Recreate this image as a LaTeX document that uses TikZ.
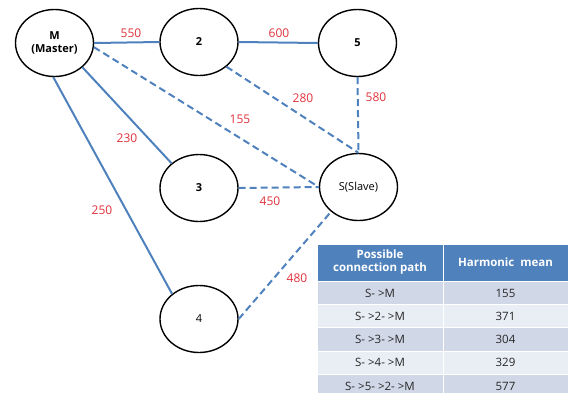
\documentclass[tikz,border=0pt]{standalone}
\usepackage{fontspec}
\setmainfont{Open Sans}
\usetikzlibrary{shapes.geometric}
\definecolor{edgeblue}{HTML}{4F81BD}
\definecolor{lblred}{HTML}{E0303A}
\definecolor{rowdark}{HTML}{D0D8E8}
\definecolor{rowlight}{HTML}{E9EDF4}
\definecolor{celltext}{HTML}{262626}
\newcommand{\arr}{-\hspace{3pt}>}
\tikzset{
  vert/.style={ellipse,draw=black,line width=1.4pt,minimum width=78pt,minimum height=67pt,inner sep=0pt,font=\fontsize{11}{13}\selectfont\bfseries,align=center},
  solidedge/.style={draw=edgeblue,line width=2pt},
  dashedge/.style={draw=edgeblue,line width=2pt,dash pattern=on 7pt off 4pt},
  wlabel/.style={text=lblred,font=\fontsize{12}{13}\selectfont,inner sep=0pt},
  headcell/.style={fill=edgeblue,draw=white,line width=0.8pt},
  darkcell/.style={fill=rowdark,draw=white,line width=0.8pt},
  lightcell/.style={fill=rowlight,draw=white,line width=0.8pt},
  headtext/.style={text=white,font=\fontsize{11.5}{13}\selectfont\bfseries,align=center,inner sep=0pt},
  celltxt/.style={text=celltext,font=\fontsize{11.5}{13}\selectfont,inner sep=0pt}
}
\begin{document}
\begin{tikzpicture}[x=1pt,y=-1pt]
\useasboundingbox (0,0) rectangle (568,392);
% vertices
\node[vert] (M) at (54.5,43) {M\\(Master)};
\node[vert] (n2) at (199,42) {2};
\node[vert] (n5) at (357.5,43) {5};
\node[vert] (S) at (358.5,187) {\mdseries S(Slave)};
\node[vert] (n3) at (199,188) {3};
\node[vert] (n4) at (199,319) {\mdseries 4};
% edges
\draw[solidedge] (M.east) -- (n2.west);
\draw[solidedge] (n2.east) -- (n5.west);
\draw[solidedge] (M.-41) -- (n3.138);
\draw[solidedge] (M.-92) -- (n4.137);
\draw[dashedge] (M.-6) -- (S.west);
\draw[dashedge] (n2.-42) -- (S.north);
\draw[dashedge] (n5.south) -- (S.north);
\draw[dashedge] (n3.east) -- (S.west);
\draw[dashedge] (n4.east) -- (S.222);
% weights
\node[wlabel] (w550) at (131,33) {550};
\node[wlabel] (w600) at (279,33) {600};
\node[wlabel] (w155) at (240,119) {155};
\node[wlabel] (w280) at (303,98) {280};
\node[wlabel] (w580) at (376,97) {580};
\node[wlabel] (w230) at (127,138) {230};
\node[wlabel] (w250) at (102,210) {250};
\node[wlabel] (w450) at (270,201) {450};
\node[wlabel] (w480) at (297,278) {480};
% table
\begin{scope}
\clip (0,0) rectangle (568,392);
\path[headcell] (317,244) rectangle (443,281);
\path[headcell] (443,244) rectangle (568,281);
\path[darkcell] (317,281) rectangle (443,304.3);
\path[darkcell] (443,281) rectangle (568,304.3);
\path[lightcell] (317,304.3) rectangle (443,327.6);
\path[lightcell] (443,304.3) rectangle (568,327.6);
\path[darkcell] (317,327.6) rectangle (443,351);
\path[darkcell] (443,327.6) rectangle (568,351);
\path[lightcell] (317,351) rectangle (443,374.3);
\path[lightcell] (443,351) rectangle (568,374.3);
\path[darkcell] (317,374.3) rectangle (443,398);
\path[darkcell] (443,374.3) rectangle (568,398);
\end{scope}
\node[headtext] (h1) at (380,262.5) {Possible\\connection\ path};
\node[headtext] (h2) at (505.5,262.5) {Harmonic\ \ mean};
\node[celltxt] (r1a) at (380,293) {S\arr M};
\node[celltxt] (r1b) at (505.5,293) {155};
\node[celltxt] (r2a) at (380,316) {S\arr 2\arr M};
\node[celltxt] (r2b) at (505.5,316) {371};
\node[celltxt] (r3a) at (380,339.5) {S\arr 3\arr M};
\node[celltxt] (r3b) at (505.5,339.5) {304};
\node[celltxt] (r4a) at (380,362.5) {S\arr 4\arr M};
\node[celltxt] (r4b) at (505.5,362.5) {329};
\node[celltxt] (r5a) at (380,386) {S\arr 5\arr 2\arr M};
\node[celltxt] (r5b) at (505.5,386) {577};
\end{tikzpicture}
\end{document}
